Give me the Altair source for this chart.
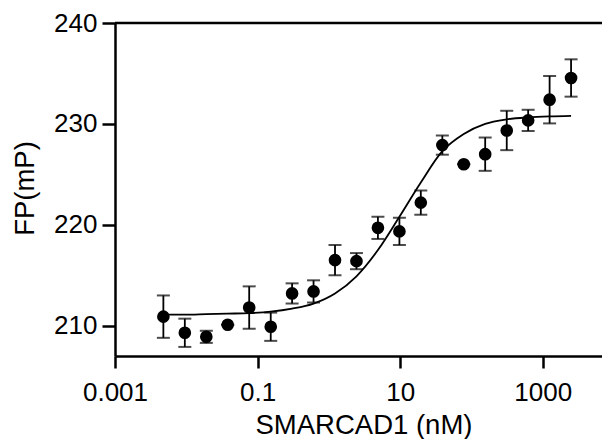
import altair as alt
import pandas as pd

# SMARCAD1 concentrations (nM), 2-fold dilution series
conc = [0.00477, 0.00954, 0.0191, 0.0381, 0.0763, 0.153, 0.305, 0.610, 1.22, 2.44,
        4.88, 9.77, 19.5, 39.1, 78.1, 156, 313, 625, 1250, 2500]
# mean FP (mP) and SD
fp_mean = [210.9, 209.3, 208.9, 210.1, 211.8, 209.9, 213.2, 213.4, 216.5, 216.4,
           219.7, 219.35, 222.2, 227.9, 226.0, 227.0, 229.35, 230.35, 232.4, 234.55]
fp_sd = [2.1, 1.4, 0.6, 0.0, 2.1, 1.4, 1.0, 1.1, 1.5, 0.8,
         1.1, 1.35, 1.2, 0.95, 0.0, 1.65, 1.95, 1.05, 2.35, 1.85]
# fitted curve values at the same concentrations
fit_fp = [211.1, 211.1, 211.15, 211.2, 211.25, 211.4, 211.7, 212.2, 213.2, 214.9,
          217.5, 220.8, 224.2, 227.3, 229.0, 230.0, 230.45, 230.65, 230.75, 230.8]

x_ticks = [0.001, 0.1, 10, 1000]
y_ticks = [210, 220, 230, 240]
top_line = [240]

df = pd.DataFrame({"conc": conc, "fp": fp_mean, "sd": fp_sd})
df["lo"] = df["fp"] - df["sd"]
df["hi"] = df["fp"] + df["sd"]
fit = pd.DataFrame({"conc": conc, "fp": fit_fp})
top = pd.DataFrame({"y": top_line})

FONT = "Liberation Sans"
FS = 26
TFS = 27.5

xs = alt.Scale(type="log", domain=[0.001, 6790])
ys = alt.Scale(domain=[207, 240], zero=False, nice=False)

x_axis = alt.Axis(values=x_ticks, format="~g", title="SMARCAD1 (nM)",
                  labelFontSize=FS, titleFontSize=TFS, titleFontWeight="normal",
                  tickSize=12, tickWidth=2.5, domainWidth=2.5, labelPadding=11,
                  grid=False, labelFlush=False, titleX=248.5, titleY=77,
                  titleBaseline="alphabetic", domainColor="black", tickColor="black",
                  labelColor="black", titleColor="black", labelFont=FONT, titleFont=FONT)
y_axis = alt.Axis(values=y_ticks, title="FP(mP)",
                  labelFontSize=FS, titleFontSize=TFS, titleFontWeight="normal",
                  tickSize=13, tickWidth=2.5, domainWidth=2.5, labelPadding=5,
                  grid=False, labelFlush=False, titleX=-82, titleY=165,
                  titleBaseline="alphabetic", domainColor="black", tickColor="black",
                  labelColor="black", titleColor="black", labelFont=FONT, titleFont=FONT)

base = alt.Chart(df)

bars = base.mark_rule(color="black", strokeWidth=1.8).encode(
    x=alt.X("conc:Q", scale=xs, axis=x_axis),
    y=alt.Y("lo:Q", scale=ys, axis=y_axis),
    y2="hi:Q",
)
caps_hi = base.mark_tick(color="black", orient="horizontal", size=13, thickness=2).encode(
    x=alt.X("conc:Q", scale=xs), y=alt.Y("hi:Q", scale=ys))
caps_lo = base.mark_tick(color="black", orient="horizontal", size=13, thickness=2).encode(
    x=alt.X("conc:Q", scale=xs), y=alt.Y("lo:Q", scale=ys))
pts = base.mark_circle(color="black", size=160, opacity=1).encode(
    x=alt.X("conc:Q", scale=xs), y=alt.Y("fp:Q", scale=ys))
curve = alt.Chart(fit).mark_line(color="black", strokeWidth=1.8, interpolate="monotone").encode(
    x=alt.X("conc:Q", scale=xs), y=alt.Y("fp:Q", scale=ys))
rule = alt.Chart(top).mark_rule(color="black", strokeWidth=2.5).encode(
    y=alt.Y("y:Q", scale=ys))

chart = alt.layer(bars, caps_hi, caps_lo, curve, pts, rule).properties(
    width=487, height=333,
    padding={"left": 107, "top": 15, "right": 0, "bottom": 83},
    autosize="none",
).configure_view(stroke=None).configure(font=FONT)

chart.save("out.html", embed_options={"renderer": "svg", "actions": False})
